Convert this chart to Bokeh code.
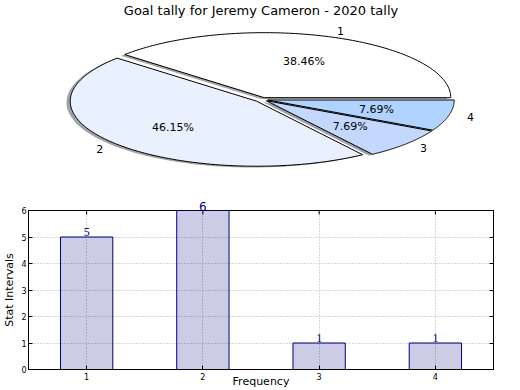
import numpy as np
from bokeh.plotting import figure
from bokeh.layouts import column
from bokeh.models import ColumnDataSource, LinearAxis, FixedTicker, LabelSet
from bokeh.core.properties import value
from bokeh.embed import file_html
from bokeh.resources import INLINE

# ---- data ----
title = "Goal tally for Jeremy Cameron - 2020 tally"
slice_labels = ["1", "2", "3", "4"]
slice_counts = [5, 6, 1, 1]
slice_explode = [0.03, 0.04, 0.03, 0.03]
slice_colors = ["#ffffff", "#eaf1fe", "#c4d8fd", "#b1d3ff"]

bar_categories = [1, 2, 3, 4]
bar_values = [5, 6, 1, 1]
y_ticks = [0, 1, 2, 3, 4, 5, 6]
x_label = "Frequency"
y_label = "Stat Intervals"

FONT = "DejaVu Sans"
BL, BR = 25, 27  # shared left/right borders so both frames line up

# ---- pie ----
p1 = figure(width=520, height=190, x_range=(-1.2536, 1.2397), y_range=(-1.4, 1.523),
            x_axis_type=None, y_axis_type=None, min_border_left=BL, min_border_right=BR,
            min_border_top=0, min_border_bottom=0,
            toolbar_location=None, output_backend="svg")
p1.grid.visible = False
p1.outline_line_color = None

total = float(sum(slice_counts))
start = 0.0
xs, ys, sxs, sys_ = [], [], [], []
shadow_cols = []
lab_x, lab_y, lab_align, pct_x, pct_y, pct_t = [], [], [], [], [], []
for cnt, ex, col in zip(slice_counts, slice_explode, slice_colors):
    ang = 360.0 * cnt / total
    t1, t2 = start, start + ang
    mid = np.deg2rad((t1 + t2) / 2)
    cx, cy = ex * np.cos(mid), ex * np.sin(mid)
    th = np.deg2rad(np.linspace(t1, t2, 120))
    px = np.concatenate([[cx], cx + np.cos(th)])
    py = np.concatenate([[cy], cy + np.sin(th)])
    xs.append(list(px)); ys.append(list(py))
    sxs.append(list(px - 0.02)); sys_.append(list(py - 0.02))
    r, g, b = int(col[1:3], 16), int(col[3:5], 16), int(col[5:7], 16)
    shadow_cols.append("#%02x%02x%02x" % (int(0.3 * r), int(0.3 * g), int(0.3 * b)))
    lx = cx + 1.1 * np.cos(mid)
    lab_x.append(lx); lab_y.append(cy + 1.1 * np.sin(mid))
    lab_align.append("left" if lx > 0 else "right")
    pct_x.append(cx + 0.6 * np.cos(mid)); pct_y.append(cy + 0.6 * np.sin(mid))
    pct_t.append("%.2f%%" % (100.0 * cnt / total))
    start = t2

p1.patches(xs=sxs, ys=sys_, fill_color=shadow_cols, fill_alpha=0.5, line_color=None)
p1.patches(xs=xs, ys=ys, fill_color=slice_colors, line_color="black", line_width=1)

lab_src = ColumnDataSource(dict(x=lab_x, y=lab_y, text=slice_labels, align=lab_align))
p1.text(x="x", y="y", text="text", source=lab_src, text_align="align",
        text_baseline="middle", text_font=value(FONT), text_font_size="11px",
        text_color="black")
pct_src = ColumnDataSource(dict(x=pct_x, y=pct_y, text=pct_t))
p1.text(x="x", y="y", text="text", source=pct_src, text_align="center",
        text_baseline="middle", text_font=value(FONT), text_font_size="11px",
        text_color="black")
p1.text(x=[-0.0069], y=[1.477], text=[title], text_align="center", text_baseline="top",
        text_font=value(FONT), text_font_size="13px", text_color="black")

# ---- bar ----
FRAME_H = 159
p2 = figure(width=520, height=200, x_range=(0.5, 4.5), y_range=(y_ticks[0], y_ticks[-1]),
            min_border_left=BL, min_border_right=BR, min_border_top=20,
            min_border_bottom=21, toolbar_location=None, output_backend="svg")
p2.vbar(x=bar_categories, top=bar_values, width=0.45, fill_color="navy",
        fill_alpha=0.2, line_color="navy", line_width=1)

ymax = y_ticks[-1]
inside = [(c, v) for c, v in zip(bar_categories, bar_values) if v < ymax]
at_top = [(c, v) for c, v in zip(bar_categories, bar_values) if v >= ymax]
bar_src = ColumnDataSource(dict(x=[c for c, _ in inside], y=[v for _, v in inside],
                                text=[str(v) for _, v in inside]))
p2.add_layout(LabelSet(x="x", y="y", text="text", source=bar_src,
                       text_align="center", text_baseline="alphabetic", y_offset=1,
                       text_font=FONT, text_font_size="12px", text_color="navy"))

p2.outline_line_color = "black"
p2.outline_line_alpha = 1
p2.xaxis.ticker = FixedTicker(ticks=bar_categories)
p2.yaxis.ticker = FixedTicker(ticks=y_ticks)
for ax in [p2.xaxis[0], p2.yaxis[0]]:
    ax.major_label_text_font = FONT
    ax.major_label_text_font_size = "8px"
    ax.major_label_text_color = "black"
    ax.major_tick_in = 4
    ax.major_tick_out = 0
    ax.minor_tick_line_color = None
    ax.axis_line_color = "black"
    ax.major_tick_line_color = "black"
    ax.major_label_standoff = 3
p2.yaxis.axis_label = y_label
p2.yaxis.axis_label_text_font = FONT
p2.yaxis.axis_label_text_font_size = "11px"
p2.yaxis.axis_label_text_font_style = "normal"
p2.yaxis.axis_label_text_color = "black"
p2.yaxis.axis_label_standoff = 2
p2.yaxis.major_label_standoff = 2

p2.xaxis.axis_label = x_label
p2.xaxis.axis_label_text_font = FONT
p2.xaxis.axis_label_text_font_size = "11px"
p2.xaxis.axis_label_text_font_style = "normal"
p2.xaxis.axis_label_text_color = "black"
p2.xaxis.axis_label_standoff = -8

# right-side inward ticks
rax = LinearAxis(ticker=FixedTicker(ticks=y_ticks), major_label_text_color=None,
                 major_label_text_font_size="8px",
                 major_tick_in=4, major_tick_out=0, minor_tick_line_color=None,
                 major_label_standoff=0, axis_line_color="black",
                 major_tick_line_color="black")
p2.add_layout(rax, "right")

# top inward ticks
tick_len = 4.0 * (y_ticks[-1] - y_ticks[0]) / FRAME_H
p2.segment(x0=bar_categories, y0=[ymax] * len(bar_categories), x1=bar_categories,
           y1=[ymax - tick_len] * len(bar_categories), line_color="black", line_width=1)

# value label of the bar that reaches the top edge, drawn above the frame
tax = LinearAxis(ticker=FixedTicker(ticks=[c for c, _ in at_top]),
                 major_label_overrides={c: str(v) for c, v in at_top},
                 major_label_text_font=FONT, major_label_text_font_size="12px",
                 major_label_text_color="navy", major_tick_line_color=None,
                 minor_tick_line_color=None, axis_line_color=None,
                 major_tick_in=0, major_tick_out=0, major_label_standoff=0)
p2.add_layout(tax, "above")

p2.xgrid.ticker = FixedTicker(ticks=bar_categories)
p2.ygrid.ticker = FixedTicker(ticks=y_ticks)
p2.grid.grid_line_color = "#b0b0b0"
p2.grid.grid_line_dash = "1 2"

layout = column(p1, p2, spacing=0)
open("out.html", "w").write(file_html(layout, INLINE))
